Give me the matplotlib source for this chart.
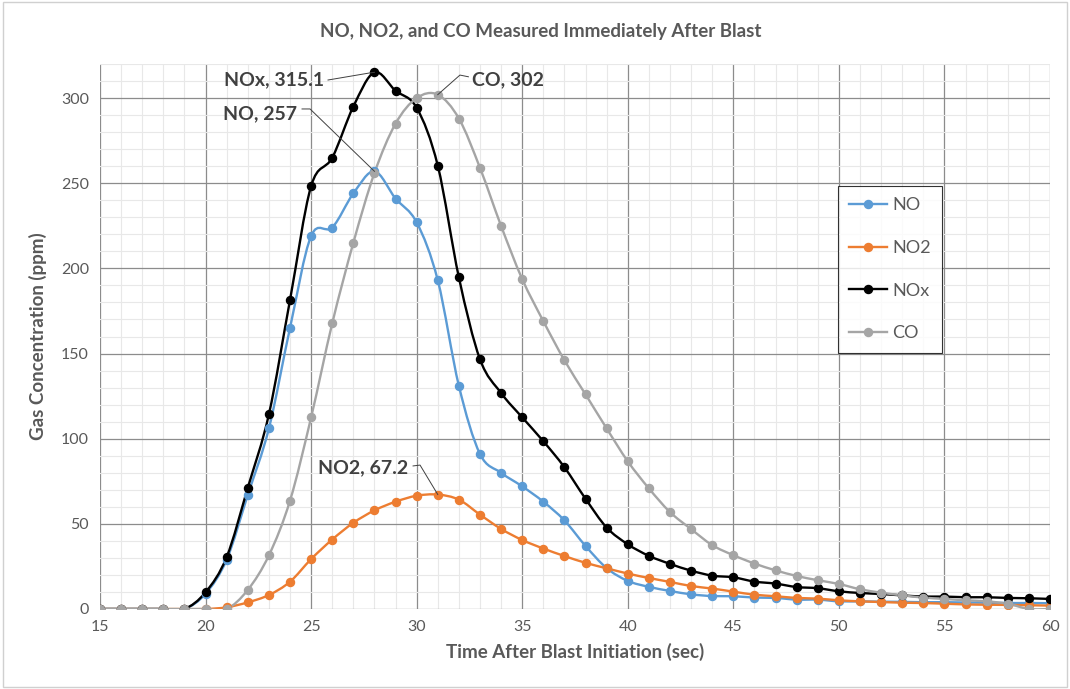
import numpy as np
import matplotlib
matplotlib.use("Agg")
import matplotlib.pyplot as plt
from matplotlib.path import Path
from matplotlib.patches import PathPatch, Rectangle
from matplotlib.lines import Line2D

plt.rcParams['font.family'] = ['Lato', 'DejaVu Sans']

time_sec = list(range(15, 61))

no = [0, 0, 0, 0, 0, 9, 29, 67, 106, 165, 219, 224, 244, 257, 241, 227, 193, 131, 91, 80,
      72, 63, 52, 37, 24, 16.5, 13, 10.6, 8.6, 7.6, 7.5, 6.7, 6.5, 5.5, 5.5, 4.5,
      4.5, 4.3, 4.2, 4.0, 4.0, 3.8, 3.7, 3.5, 3.5, 3.4]
no2 = [0, 0, 0, 0, 0, 0, 1, 3.9, 8.2, 16, 29.3, 40.8, 50.6, 57.9, 63, 66.5, 67.2, 64.2, 55.4, 47,
       40.5, 35.5, 31.1, 27.1, 23.9, 20.8, 18.2, 15.9, 13.5, 12, 10.2, 8.4, 7.5, 6.5, 6.1, 5.1,
       4.5, 4.1, 3.7, 3.5, 3.1, 2.7, 2.5, 2.4, 2.2, 2.0]
nox = [0, 0, 0, 0, 0, 9.8, 30.5, 71.2, 114.3, 181.4, 248.3, 265, 295, 315.1, 304.3, 294.3, 260.3,
       194.7, 146.6, 126.8, 112.5, 98.5, 83.2, 64.7, 47.8, 38, 31.2, 26.5, 22.5, 19.6, 18.6, 16.1,
       14.9, 12.9, 12.2, 10.4, 9.4, 8.8, 8.0, 7.3, 7.3, 6.9, 6.9, 6.5, 6.3, 5.9]
co = [0, 0, 0, 0, 0, 0, 0, 11.2, 31.5, 63.6, 112.5, 167.7, 215, 256, 285, 300, 302, 288, 259,
      224.9, 193.7, 169, 146, 126, 106, 86.7, 70.8, 56.9, 46.9, 37.5, 31.6, 26.7, 22.7, 19.4,
      16.9, 14.7, 11.6, 9.6, 8.0, 6.7, 5.9, 5.1, 4.5, 3.1, 0, 0]

series_names = ['NO', 'NO2', 'NOx', 'CO']
series_values = [no, no2, nox, co]
series_colors = ['#5B9BD5', '#ED7D31', '#000000', '#A5A5A5']

x_ticks = [15, 20, 25, 30, 35, 40, 45, 50, 55, 60]
y_ticks = [0, 50, 100, 150, 200, 250, 300]

W, H = 1070, 689
fig = plt.figure(figsize=(W / 100, H / 100), dpi=100)
ax = fig.add_axes([100 / W, 1 - 609 / H, 950 / W, 545 / H])


def smooth_path(x, y, t=1.0 / 6.0):
    x = np.asarray(x, float)
    y = np.asarray(y, float)
    n = len(x)
    verts = [(x[0], y[0])]
    codes = [Path.MOVETO]
    for i in range(n - 1):
        i0 = max(i - 1, 0)
        i3 = min(i + 2, n - 1)
        c1 = (x[i] + (x[i + 1] - x[i0]) * t, y[i] + (y[i + 1] - y[i0]) * t)
        c2 = (x[i + 1] - (x[i3] - x[i]) * t, y[i + 1] - (y[i3] - y[i]) * t)
        verts += [c1, c2, (x[i + 1], y[i + 1])]
        codes += [Path.CURVE4] * 3
    return Path(verts, codes)


for name, vals, col in zip(series_names, series_values, series_colors):
    p = smooth_path(time_sec, vals)
    ax.add_patch(PathPatch(p, facecolor='none', edgecolor=col, lw=1.7, zorder=3,
                           capstyle='round', joinstyle='round'))
    ax.plot(time_sec, vals, 'o', color=col, ms=5.8, zorder=4, mec=col)

ax.set_xlim(15, 60)
ax.set_ylim(0, 320)
ax.set_xticks(x_ticks)
ax.set_yticks(y_ticks)
ax.set_xticks(np.arange(15, 61, 1), minor=True)
ax.set_yticks(np.arange(0, 321, 10), minor=True)
ax.grid(which='major', color='#8c8c8c', lw=0.9, zorder=1)
ax.grid(which='minor', color='#e8e8e8', lw=0.8, zorder=0)
ax.set_axisbelow(True)
for s in ax.spines.values():
    s.set_visible(False)
ax.tick_params(which='both', length=0, labelsize=11.5, colors='#595959', pad=8)

ax.set_xlabel('Time After Blast Initiation (sec)', fontsize=13.5, fontweight='bold',
              color='#595959', labelpad=6)
ax.set_ylabel('Gas Concentration (ppm)', fontsize=13.5, fontweight='bold',
              color='#595959', labelpad=10)
fig.text(541 / W, 1 - 31 / H, 'NO, NO2, and CO Measured Immediately After Blast',
         ha='center', va='center', fontsize=13.5, fontweight='bold', color='#595959')

# annotations
ann_kw = dict(fontsize=14, fontweight='bold', color='#404040', va='center', zorder=6)
lk = dict(color='#404040', lw=0.7, zorder=5)
# NOx
ax.text(25.6, 310.6, 'NOx, 315.1', ha='right', **ann_kw)
ax.plot([25.8, 27.8, 28], [310.6, 314.8, 315.1], **lk)
# NO
ax.text(24.35, 291, 'NO, 257', ha='right', **ann_kw)
ax.plot([24.57, 24.95, 28], [293.6, 293.6, 257], **lk)
# CO
ax.text(32.62, 310.6, 'CO, 302', ha='left', **ann_kw)
ax.plot([32.45, 32.05, 31], [312.5, 313.5, 302], **lk)
# NO2
ax.text(29.59, 82.8, 'NO2, 67.2', ha='right', **ann_kw)
ax.plot([29.83, 30.16, 31], [84, 84.5, 67.2], **lk)

handles = [Line2D([0], [0], color=c, lw=1.7, marker='o', ms=5.8) for c in series_colors]
leg = ax.legend(handles, series_names, loc='upper left', bbox_to_anchor=((838 - 100) / 950, (609 - 186) / 545),
                frameon=True, fancybox=False, edgecolor='#000000', fontsize=13,
                labelcolor='#595959', handlelength=2.1, handletextpad=0.3,
                labelspacing=1.48, borderpad=0.62, borderaxespad=0)
leg.get_frame().set_linewidth(0.8)

fig.patches.append(Rectangle((0.003, 0.003), 0.994, 0.994, transform=fig.transFigure,
                             fill=False, edgecolor='#d0d0d0', lw=1))

fig.savefig('out.png', dpi=100)
